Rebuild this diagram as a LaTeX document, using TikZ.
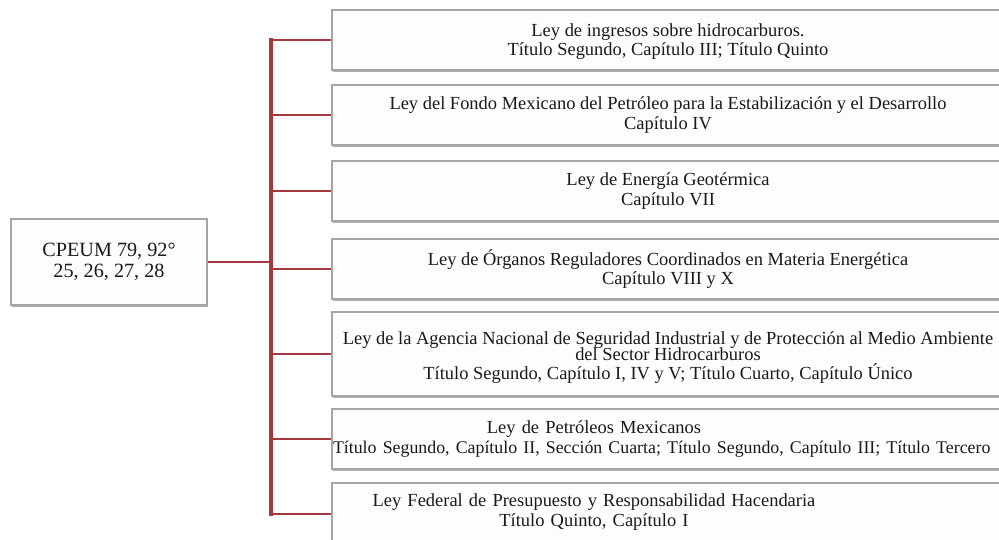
\documentclass[tikz,border=0pt]{standalone}
\usepackage{fontspec}
\setmainfont{Liberation Serif}
\usetikzlibrary{shadows}
\definecolor{BranchRed}{RGB}{162,57,60}
\definecolor{BoxBorder}{RGB}{165,165,165}
\definecolor{BoxFill}{RGB}{253,253,253}
\tikzset{
  LawBox/.style={draw=BoxBorder, fill=BoxFill, line width=0.6pt, inner sep=0pt,
    minimum width=13.56cm, minimum height=1.2cm,
    drop shadow={shadow xshift=0.3pt, shadow yshift=-1.1pt, fill=black!45, opacity=0.7}},
  LawText/.style={align=center, font=\fontsize{10.5}{10.9}\selectfont, text=black!90},
  Branch/.style={draw=BranchRed, line width=1.5pt},
  Spine/.style={draw=BranchRed, line width=1.9pt, line cap=rect},
}

\begin{document}
\begin{tikzpicture}

\clip (0,0) rectangle (19.98,-10.8);
\fill[white] (0,0) rectangle (19.98,-10.8);

%% Caja de la Constitución
\node[LawBox, minimum width=3.92cm, minimum height=1.72cm] (cpeum) at (2.18,-5.24) {};
\node[LawText, font=\fontsize{11.5}{11.8}\selectfont] (cpeumText) at (cpeum.center)
  {CPEUM 79, 92°\\25, 26, 27, 28};

%% Cajas de las leyes (la orilla derecha queda fuera de la imagen)
\node[LawBox] (leyUno)    at (13.42,-0.80) {};
\node[LawBox] (leyDos)    at (13.42,-2.30) {};
\node[LawBox] (leyTres)   at (13.42,-3.82) {};
\node[LawBox] (leyCuatro) at (13.42,-5.38) {};
\node[LawBox, minimum height=1.68cm] (leyCinco) at (13.42,-7.08) {};
\node[LawBox] (leySeis)   at (13.42,-8.78) {};
\node[LawBox, minimum height=1.24cm] (leySiete) at (13.42,-10.28) {};

% Textos de las leyes
\node[LawText] (textoUno) at ([xshift=-0.06cm, yshift=-0.03cm]leyUno.center)
  {Ley de ingresos sobre hidrocarburos.\\Título Segundo, Capítulo III; Título Quinto};
\node[LawText] (textoDos) at ([xshift=-0.06cm]leyDos.center)
  {Ley del Fondo Mexicano del Petróleo para la Estabilización y el Desarrollo\\Capítulo IV};
\node[LawText] (textoTres) at ([xshift=-0.06cm]leyTres.center)
  {Ley de Energía Geotérmica\\Capítulo VII};
\node[LawText] (textoCuatro) at ([xshift=-0.06cm]leyCuatro.center)
  {Ley de Órganos Reguladores Coordinados en Materia Energética\\Capítulo VIII y X};
\node[LawText] (textoCinco) at ([xshift=-0.06cm, yshift=-0.07cm]leyCinco.center)
  {Ley de la Agencia Nacional de Seguridad Industrial y de Protección al Medio Ambiente\\[-1.6pt]
   del Sector Hidrocarburos\\[0pt]
   Título Segundo, Capítulo I, IV y V; Título Cuarto, Capítulo Único};
% El segundo renglón es más ancho que la caja de texto y se sale por la derecha
\node[LawText, text width=10.44cm] (textoSeis) at (11.88,-8.78)
  {Ley de Petróleos Mexicanos\\\mbox{\fontsize{10.15}{10.9}\selectfont Título Segundo, Capítulo II, Sección Cuarta; Título Segundo, Capítulo III; Título Tercero}};
\node[LawText, text width=10.44cm] (textoSiete) at (11.88,-10.24)
  {Ley Federal de Presupuesto y Responsabilidad Hacendaria\\Título Quinto, Capítulo I};

%% Conectores
\coordinate (spine) at (5.42,0);

\draw[Branch] (cpeum.east) -- (cpeum.east -| spine);
\draw[Spine] (leyUno.west -| spine) -- (leySiete.west -| spine);
\foreach \ley in {leyUno, leyDos, leyTres, leyCuatro, leyCinco, leySeis, leySiete}
  \draw[Branch] (\ley.west -| spine) -- (\ley.west);

\end{tikzpicture}
\end{document}
